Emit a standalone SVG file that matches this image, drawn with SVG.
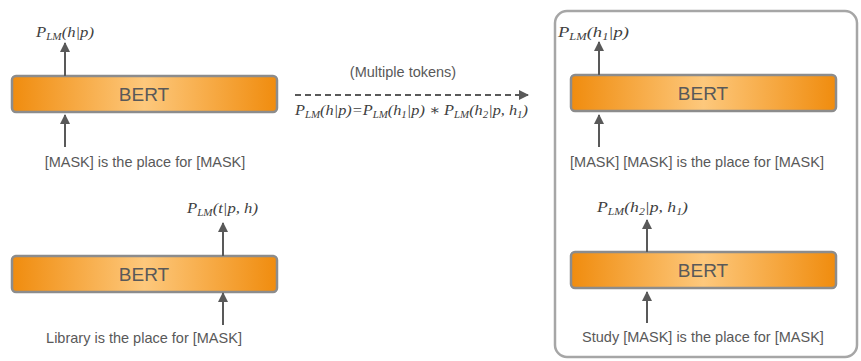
<svg xmlns="http://www.w3.org/2000/svg" width="861" height="361" viewBox="0 0 861 361">
<defs>
<linearGradient id="g" x1="0" y1="0" x2="1" y2="0">
<stop offset="0" stop-color="#F08C0E"/>
<stop offset="0.5" stop-color="#FDC87C"/>
<stop offset="1" stop-color="#F08C0E"/>
</linearGradient>
<marker id="ah" viewBox="0 0 10 10" refX="9" refY="5" markerWidth="5" markerHeight="5" orient="auto" markerUnits="strokeWidth">
<path d="M0,0 L10,5 L0,10 z" fill="#595959"/>
</marker>
</defs>
<style>
.box{fill:url(#g);stroke:#8C8C8C;stroke-width:2.5}
.bt{font-family:"Liberation Sans",Arial,sans-serif;font-size:19px;fill:#595959;text-anchor:middle}
.t{font-family:"Liberation Sans",Arial,sans-serif;font-size:14.5px;fill:#595959;text-anchor:middle}
.m{font-family:"Liberation Serif","DejaVu Serif",serif;font-style:italic;font-size:15px;fill:#404040}
.s{font-size:10px}
.ar{stroke:#595959;stroke-width:2;fill:none;marker-end:url(#ah)}
.frame{fill:none;stroke:#A6A6A6;stroke-width:2.5}
</style>
<rect class="frame" x="555" y="11" width="302" height="346" rx="12"/>
<g id="bert1">
<rect class="box" x="12" y="76" width="265" height="36" rx="4"/>
<text class="bt" x="144" y="101">BERT</text>
</g>
<g id="bert2">
<rect class="box" x="12" y="256" width="265" height="36" rx="4"/>
<text class="bt" x="144" y="281">BERT</text>
</g>
<g id="bert3">
<rect class="box" x="571" y="75" width="265" height="36" rx="4"/>
<text class="bt" x="703" y="100">BERT</text>
</g>
<g id="bert4">
<rect class="box" x="571" y="252" width="265" height="36" rx="4"/>
<text class="bt" x="703" y="277">BERT</text>
</g>
<g id="labels">
<text class="t" x="145" y="167">[MASK] is the place for [MASK]</text>
<text class="t" x="144" y="343">Library is the place for [MASK]</text>
<text class="t" x="697" y="167">[MASK] [MASK] is the place for [MASK]</text>
<text class="t" x="703" y="342">Study [MASK] is the place for [MASK]</text>
<text class="t" x="403" y="77">(Multiple tokens)</text>
<text class="m" x="36" y="37" textLength="58" lengthAdjust="spacingAndGlyphs">P<tspan class="s" dy="3">LM</tspan><tspan dy="-3">(h|p)</tspan></text>
<text class="m" x="187" y="213" textLength="71" lengthAdjust="spacingAndGlyphs">P<tspan class="s" dy="3">LM</tspan><tspan dy="-3">(t|p, h)</tspan></text>
<text class="m" x="558" y="37" textLength="71" lengthAdjust="spacingAndGlyphs">P<tspan class="s" dy="3">LM</tspan><tspan dy="-3">(h</tspan><tspan class="s" dy="3">1</tspan><tspan dy="-3">|p)</tspan></text>
<text class="m" x="597" y="212" textLength="91" lengthAdjust="spacingAndGlyphs">P<tspan class="s" dy="3">LM</tspan><tspan dy="-3">(h</tspan><tspan class="s" dy="3">2</tspan><tspan dy="-3">|p, h</tspan><tspan class="s" dy="3">1</tspan><tspan dy="-3">)</tspan></text>
<text class="m" x="295" y="115" textLength="233" lengthAdjust="spacingAndGlyphs">P<tspan class="s" dy="3">LM</tspan><tspan dy="-3">(h|p)=P</tspan><tspan class="s" dy="3">LM</tspan><tspan dy="-3">(h</tspan><tspan class="s" dy="3">1</tspan><tspan dy="-3">|p) ∗ P</tspan><tspan class="s" dy="3">LM</tspan><tspan dy="-3">(h</tspan><tspan class="s" dy="3">2</tspan><tspan dy="-3">|p, h</tspan><tspan class="s" dy="3">1</tspan><tspan dy="-3">)</tspan></text>
</g>
<g id="connectors">
<line class="ar" x1="65" y1="76" x2="65" y2="43"/>
<line class="ar" x1="65" y1="147" x2="65" y2="115"/>
<line class="ar" x1="223" y1="256" x2="223" y2="223"/>
<line class="ar" x1="223" y1="325" x2="223" y2="293"/>
<line class="ar" x1="599" y1="75" x2="599" y2="42"/>
<line class="ar" x1="599" y1="147" x2="599" y2="115"/>
<line class="ar" x1="647" y1="252" x2="647" y2="220"/>
<line class="ar" x1="647" y1="323" x2="647" y2="292"/>
<line class="ar" x1="295" y1="95" x2="528" y2="95" stroke-dasharray="6,4"/>
</g>
</svg>
